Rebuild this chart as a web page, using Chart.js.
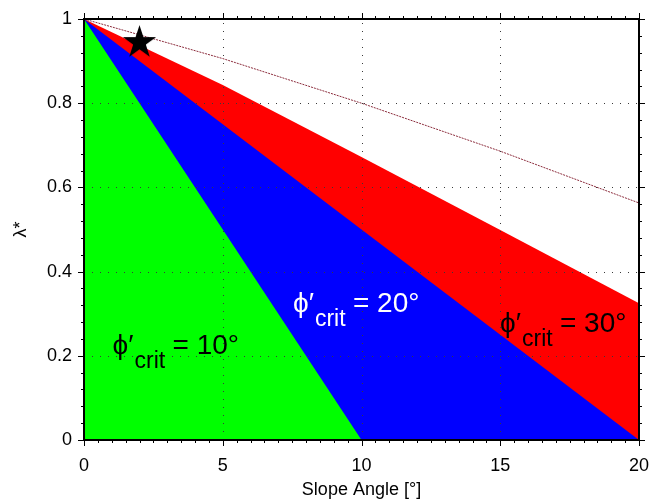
<!DOCTYPE html>
<html><head><meta charset="utf-8">
<script src="https://cdn.jsdelivr.net/npm/chart.js@4/dist/chart.umd.min.js"></script>
<style>html,body{margin:0;padding:0;background:#fff}</style>
</head><body>
<canvas id="c" width="651" height="501"></canvas>
<script>
// ---- data ----
const phi10X = [0, 5, 10];
const phi10Y = [1, 0.5, 0];
const phi20X = [0, 5, 10, 15, 20];
const phi20Y = [1, 0.75, 0.5, 0.25, 0];
const phi30X = [0, 5, 10, 15, 20];
const phi30Y = [1, 0.843, 0.672, 0.499, 0.325];
const phi40X = [0, 5, 10, 15, 20];
const phi40Y = [1, 0.906, 0.80, 0.686, 0.563];
const starX = [2];
const starY = [0.944];
const xTickValues = [0, 5, 10, 15, 20];
const yTickValues = [0, 0.2, 0.4, 0.6, 0.8, 1];
const labelTexts = ['10°', '20°', '30°'];
const labelX = [1.03, 7.53, 14.99];
const labelY = [0.204, 0.305, 0.257];

const FONT = "'Liberation Sans', Arial, Helvetica, sans-serif";
const pts = (xs, ys) => xs.map((x, i) => ({x, y: ys[i]}));

function starCanvas(R) {
  const s = Math.ceil(R * 2 + 2);
  const cv = document.createElement('canvas');
  cv.width = s; cv.height = s;
  const g = cv.getContext('2d');
  const cx = s / 2, cy = s / 2, r = R * 0.382;
  g.beginPath();
  for (let i = 0; i < 10; i++) {
    const rad = i % 2 ? r : R;
    const a = -Math.PI / 2 + i * Math.PI / 5;
    const px = cx + rad * Math.cos(a), py = cy + rad * Math.sin(a);
    i ? g.lineTo(px, py) : g.moveTo(px, py);
  }
  g.closePath();
  g.fillStyle = '#000';
  g.fill();
  return cv;
}

const decor = {
  id: 'decor',
  afterDatasetsDraw(chart) {
    const {ctx, chartArea: a, scales: {x, y}} = chart;
    ctx.save();
    ctx.strokeStyle = '#3a3a3a';
    ctx.lineWidth = 1;
    ctx.setLineDash([1, 7]);
    xTickValues.slice(1, -1).forEach(v => {
      const px = Math.round(x.getPixelForValue(v)) + 0.5;
      ctx.beginPath(); ctx.moveTo(px, a.bottom); ctx.lineTo(px, a.top); ctx.stroke();
    });
    yTickValues.slice(1, -1).forEach(v => {
      const py = Math.round(y.getPixelForValue(v)) + 0.5;
      ctx.beginPath(); ctx.moveTo(a.left, py); ctx.lineTo(a.right, py); ctx.stroke();
    });
    ctx.setLineDash([]);
    ctx.strokeStyle = '#000';
    ctx.lineWidth = 1;
    for (let i = 0; i <= 40; i++) {
      const v = i * 0.5;
      const len = i % 10 === 0 ? 6 : 3;
      const px = Math.round(x.getPixelForValue(v)) + 0.5;
      ctx.beginPath();
      ctx.moveTo(px, a.bottom); ctx.lineTo(px, a.bottom + len);
      ctx.moveTo(px, a.top); ctx.lineTo(px, a.top - len);
      ctx.stroke();
    }
    for (let i = 0; i <= 25; i++) {
      const v = i * 0.04;
      const len = i % 5 === 0 ? 6 : 3;
      const py = Math.round(y.getPixelForValue(v)) + 0.5;
      ctx.beginPath();
      ctx.moveTo(a.left, py); ctx.lineTo(a.left - len, py);
      ctx.moveTo(a.right, py); ctx.lineTo(a.right + len, py);
      ctx.stroke();
    }
    ctx.lineWidth = 2;
    ctx.strokeRect(a.left, a.top, a.right - a.left, a.bottom - a.top);
    ctx.restore();
  },
  afterDraw(chart) {
    const {ctx, scales: {x, y}} = chart;
    ctx.save();
    ctx.textBaseline = 'alphabetic';
    ctx.textAlign = 'left';
    labelTexts.forEach((t, i) => {
      const x0 = x.getPixelForValue(labelX[i]);
      const b = y.getPixelForValue(labelY[i]);
      ctx.fillStyle = i === 1 ? '#fff' : '#000';
      ctx.font = '28px ' + FONT;
      ctx.fillText('\u03d5\u2032', x0, b);
      ctx.font = '23px ' + FONT;
      ctx.fillText('crit', x0 + 22, b + 14);
      ctx.font = '28px ' + FONT;
      ctx.fillText('= ' + t, x0 + 60, b);
    });
    ctx.restore();
  }
};

new Chart(document.getElementById('c'), {
  type: 'line',
  data: {
    datasets: [
      { type: 'scatter', data: pts(starX, starY), pointStyle: starCanvas(17.5), pointRadius: 17, showLine: false },
      { data: pts(phi40X, phi40Y), borderColor: '#8b2c3c', borderWidth: 1, borderDash: [2, 1], fill: false, pointRadius: 0 },
      { data: pts(phi10X, phi10Y), borderWidth: 0, borderColor: 'rgba(0,0,0,0)', backgroundColor: '#00ff00', fill: 'origin', pointRadius: 0 },
      { data: pts(phi20X, phi20Y), borderWidth: 0, borderColor: 'rgba(0,0,0,0)', backgroundColor: '#0000ff', fill: 'origin', pointRadius: 0 },
      { data: pts(phi30X, phi30Y), borderWidth: 0, borderColor: 'rgba(0,0,0,0)', backgroundColor: '#ff0000', fill: 'origin', pointRadius: 0 }
    ]
  },
  options: {
    responsive: false,
    animation: false,
    devicePixelRatio: 1,
    layout: { autoPadding: false, padding: { top: 19, right: 12, left: 0, bottom: 0 } },
    plugins: { legend: { display: false }, tooltip: { enabled: false } },
    elements: { line: { tension: 0 } },
    scales: {
      x: {
        type: 'linear', min: 0, max: 20,
        afterFit: s => { s.height = 61; s.paddingLeft = 0; s.paddingRight = 0; },
        afterBuildTicks: s => { s.ticks = xTickValues.map(v => ({value: v})); },
        grid: { display: false, drawTicks: false },
        border: { display: false },
        ticks: { color: '#000', font: { size: 18, family: FONT }, padding: 15, maxRotation: 0 },
        title: { display: true, text: 'Slope Angle [°]', color: '#000', font: { size: 18, family: FONT }, padding: { top: 0, bottom: 0 } }
      },
      y: {
        type: 'linear', min: 0, max: 1,
        afterFit: s => { s.width = 84; s.paddingTop = 0; s.paddingBottom = 0; },
        afterBuildTicks: s => { s.ticks = yTickValues.map(v => ({value: v})); },
        grid: { display: false, drawTicks: false },
        border: { display: false },
        ticks: { color: '#000', font: { size: 18, family: FONT }, padding: 12, callback: v => String(+v.toFixed(1)) },
        title: { display: true, text: 'λ*', color: '#000', font: { size: 18, family: FONT }, padding: { top: 10, bottom: 0 } }
      }
    }
  },
  plugins: [decor]
});
</script>
</body></html>
